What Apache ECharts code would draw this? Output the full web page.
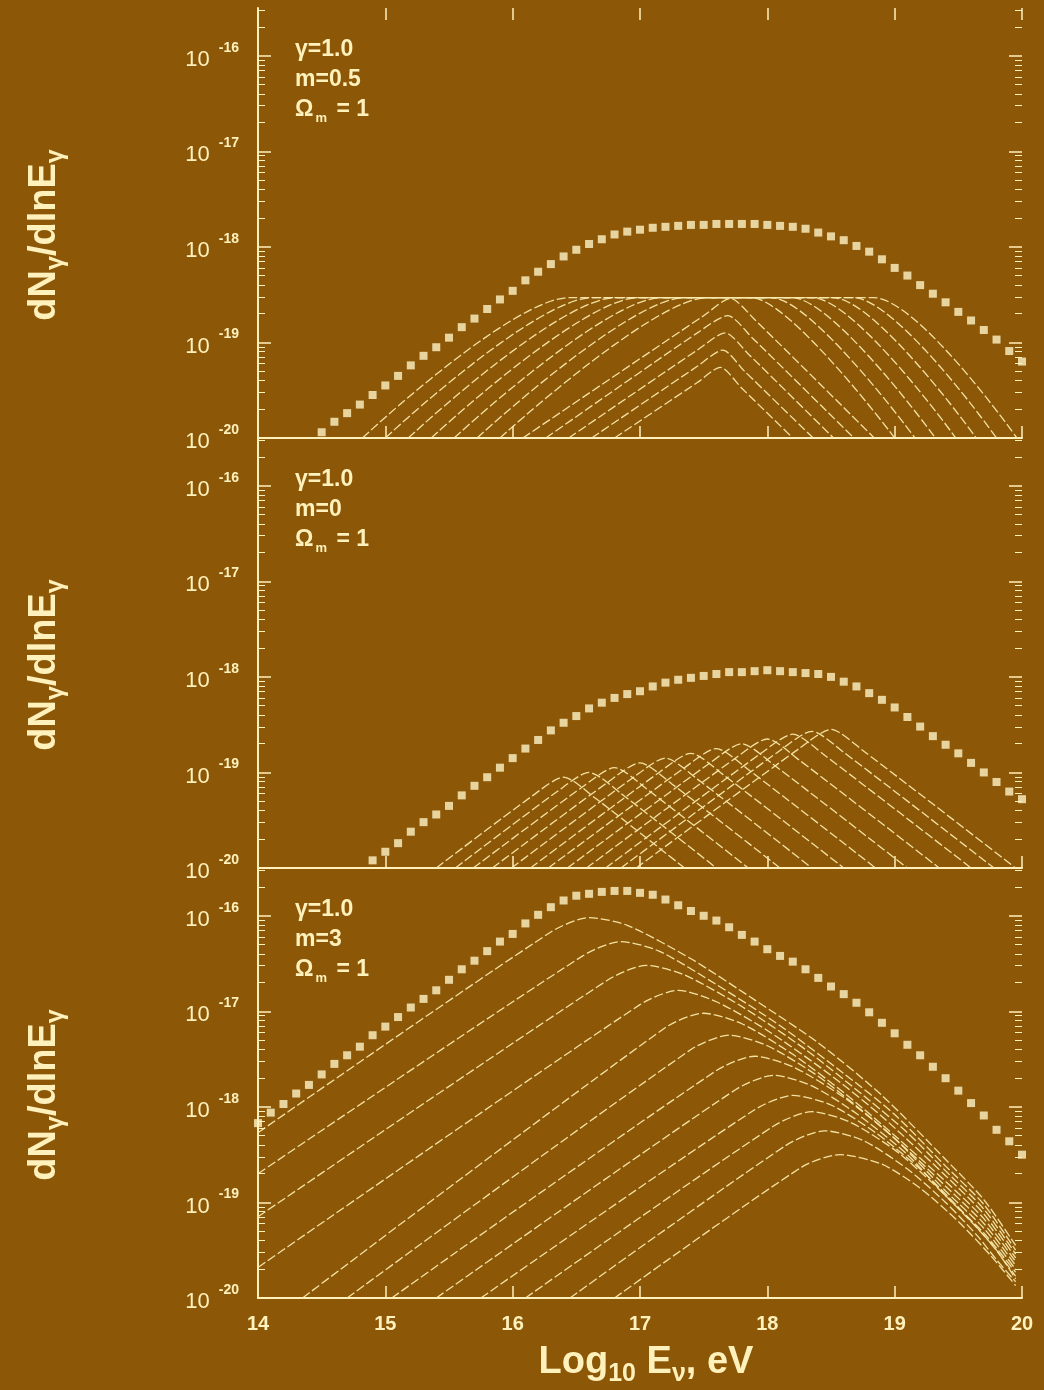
<!DOCTYPE html>
<html><head><meta charset="utf-8">
<script src="https://cdn.jsdelivr.net/npm/echarts@6/dist/echarts.min.js"></script>
<style>html,body{margin:0;padding:0;background:#8C5808;}#c{width:1044px;height:1390px;}</style>
</head><body><div id="c"></div>
<script>
// ---------------- DATA (log10 values) ----------------
const xTicks = [14, 15, 16, 17, 18, 19, 20];
const yTickExponents = [-20, -19, -18, -17, -16];
const yMinExp = -20, yMaxExp = -15.5;
const minorMultipliers = [2, 3, 4, 5, 6, 7, 8, 9];

const logE = [14.0,14.1,14.2,14.3,14.4,14.5,14.6,14.7,14.8,14.9,
  15.0,15.1,15.2,15.3,15.4,15.5,15.6,15.7,15.8,15.9,
  16.0,16.1,16.2,16.3,16.4,16.5,16.6,16.7,16.8,16.9,
  17.0,17.1,17.2,17.3,17.4,17.5,17.6,17.7,17.8,17.9,
  18.0,18.1,18.2,18.3,18.4,18.5,18.6,18.7,18.8,18.9,
  19.0,19.1,19.2,19.3,19.4,19.5,19.6,19.7,19.8,19.9,20.0];

// total (dotted) curves, log10 dN/dlnE
const totalM05 = [null,null,null,null,null,-19.94,-19.83,-19.74,-19.65,-19.55,
  -19.45,-19.35,-19.24,-19.14,-19.05,-18.95,-18.84,-18.75,-18.65,-18.55,
  -18.46,-18.35,-18.26,-18.18,-18.10,-18.03,-17.97,-17.92,-17.87,-17.84,
  -17.82,-17.80,-17.79,-17.78,-17.77,-17.77,-17.76,-17.76,-17.76,-17.76,
  -17.77,-17.78,-17.79,-17.81,-17.85,-17.89,-17.93,-17.99,-18.05,-18.13,
  -18.22,-18.30,-18.40,-18.49,-18.58,-18.68,-18.77,-18.87,-18.97,-19.09,-19.20];
const totalM0 = [null,null,null,null,null,null,null,null,null,-19.92,
  -19.83,-19.74,-19.62,-19.52,-19.44,-19.35,-19.24,-19.14,-19.05,-18.95,
  -18.85,-18.75,-18.66,-18.56,-18.48,-18.41,-18.33,-18.27,-18.22,-18.18,
  -18.15,-18.10,-18.06,-18.03,-18.01,-17.99,-17.97,-17.95,-17.95,-17.94,
  -17.93,-17.94,-17.95,-17.96,-17.97,-18.00,-18.05,-18.10,-18.17,-18.24,
  -18.32,-18.42,-18.52,-18.62,-18.71,-18.80,-18.90,-19.00,-19.10,-19.20,-19.28];
const totalM3 = [-18.17,-18.06,-17.97,-17.86,-17.77,-17.66,-17.55,-17.46,-17.37,-17.25,
  -17.16,-17.06,-16.96,-16.87,-16.78,-16.67,-16.56,-16.47,-16.37,-16.27,
  -16.19,-16.08,-15.99,-15.91,-15.84,-15.79,-15.77,-15.75,-15.74,-15.74,
  -15.76,-15.78,-15.83,-15.89,-15.95,-16.00,-16.05,-16.12,-16.20,-16.27,
  -16.35,-16.42,-16.48,-16.56,-16.65,-16.74,-16.82,-16.91,-17.01,-17.12,
  -17.23,-17.35,-17.46,-17.58,-17.70,-17.83,-17.96,-18.09,-18.24,-18.36,-18.50];

// individual contributions, [logE, log10 dN/dlnE] vertices
const m05Lines = [
  [[16.80,-20],[17.45,-19.42],[17.63,-19.26],[17.80,-19.48],[18.20,-20]],
  [[16.62,-20],[17.45,-19.25],[17.65,-19.08],[17.82,-19.30],[18.36,-20]],
  [[16.44,-20],[17.45,-19.08],[17.67,-18.90],[17.85,-19.12],[18.52,-20]],
  [[16.26,-20],[17.45,-18.90],[17.69,-18.72],[17.88,-18.95],[18.68,-20]],
  [[16.08,-20],[17.50,-18.72],[17.71,-18.54],[17.90,-18.76],[18.84,-20]],
  [[15.90,-20],[17.53,-18.53],[17.87,-18.53],[19.00,-20]],
  [[15.72,-20],[17.35,-18.53],[18.03,-18.53],[19.16,-20]],
  [[15.54,-20],[17.17,-18.53],[18.19,-18.53],[19.32,-20]],
  [[15.36,-20],[16.99,-18.53],[18.35,-18.53],[19.48,-20]],
  [[15.18,-20],[16.81,-18.53],[18.51,-18.53],[19.64,-20]],
  [[15.00,-20],[16.63,-18.53],[18.67,-18.53],[19.80,-20]],
  [[14.82,-20],[16.45,-18.53],[18.83,-18.53],[19.96,-20]]
];
const m0Lines = [
  [[15.40,-20],[16.15,-19.25],[16.40,-19.05],[16.65,-19.27],[17.35,-20]],
  [[15.55,-20],[16.35,-19.20],[16.60,-19.00],[16.85,-19.22],[17.60,-20]],
  [[15.69,-20],[16.55,-19.15],[16.80,-18.95],[17.05,-19.17],[17.85,-20]],
  [[15.84,-20],[16.75,-19.10],[17.00,-18.90],[17.25,-19.12],[18.10,-20]],
  [[15.99,-20],[16.95,-19.05],[17.20,-18.85],[17.45,-19.07],[18.35,-20]],
  [[16.14,-20],[17.15,-19.00],[17.40,-18.80],[17.65,-19.02],[18.60,-20]],
  [[16.28,-20],[17.35,-18.95],[17.60,-18.75],[17.85,-18.97],[18.85,-20]],
  [[16.43,-20],[17.55,-18.90],[17.80,-18.70],[18.05,-18.92],[19.10,-20]],
  [[16.58,-20],[17.75,-18.85],[18.00,-18.65],[18.25,-18.87],[19.35,-20]],
  [[16.73,-20],[17.95,-18.80],[18.20,-18.60],[18.45,-18.82],[19.60,-20]],
  [[16.85,-20],[18.10,-18.77],[18.35,-18.57],[18.60,-18.79],[19.78,-20]],
  [[16.97,-20],[18.25,-18.75],[18.50,-18.55],[18.75,-18.77],[19.95,-20]]
];
const m3Lines = [
  [[14.00,-18.27],[16.30,-16.17],[16.60,-16.02],[16.90,-16.10],[17.40,-16.45],[17.90,-16.88],[18.40,-17.33],[18.90,-17.88],[19.40,-18.55],[19.70,-18.97],[19.95,-19.45]],
  [[14.00,-18.70],[16.55,-16.42],[16.85,-16.27],[17.15,-16.37],[17.60,-16.72],[18.10,-17.15],[18.60,-17.65],[19.00,-18.08],[19.40,-18.62],[19.70,-19.02],[19.95,-19.50]],
  [[14.00,-19.15],[16.75,-16.67],[17.05,-16.52],[17.35,-16.62],[17.80,-16.95],[18.30,-17.40],[18.80,-17.93],[19.10,-18.27],[19.40,-18.67],[19.70,-19.07],[19.95,-19.54]],
  [[14.00,-19.68],[17.00,-16.93],[17.30,-16.78],[17.60,-16.90],[18.00,-17.20],[18.50,-17.67],[18.90,-18.10],[19.40,-18.72],[19.70,-19.12],[19.95,-19.58]],
  [[14.35,-20],[17.20,-17.17],[17.50,-17.02],[17.80,-17.13],[18.20,-17.45],[18.60,-17.85],[19.00,-18.30],[19.40,-18.78],[19.70,-19.17],[19.95,-19.62]],
  [[14.70,-20],[17.40,-17.40],[17.70,-17.25],[18.00,-17.36],[18.40,-17.68],[18.80,-18.10],[19.10,-18.45],[19.40,-18.83],[19.70,-19.22],[19.95,-19.66]],
  [[15.05,-20],[17.60,-17.62],[17.90,-17.47],[18.20,-17.58],[18.60,-17.90],[19.00,-18.33],[19.40,-18.88],[19.70,-19.27],[19.95,-19.70]],
  [[15.40,-20],[17.75,-17.82],[18.05,-17.67],[18.35,-17.78],[18.70,-18.07],[19.10,-18.50],[19.40,-18.93],[19.70,-19.32],[19.95,-19.73]],
  [[15.75,-20],[17.90,-18.03],[18.20,-17.88],[18.50,-17.98],[18.85,-18.27],[19.20,-18.65],[19.50,-19.05],[19.75,-19.42],[19.95,-19.77]],
  [[16.10,-20],[18.05,-18.20],[18.35,-18.05],[18.65,-18.16],[19.00,-18.45],[19.30,-18.80],[19.60,-19.20],[19.80,-19.50],[19.95,-19.80]],
  [[16.45,-20],[18.15,-18.40],[18.45,-18.25],[18.75,-18.35],[19.10,-18.65],[19.40,-19.00],[19.65,-19.35],[19.80,-19.60],[19.95,-19.83]],
  [[16.80,-20],[18.27,-18.63],[18.57,-18.50],[18.90,-18.60],[19.20,-18.85],[19.50,-19.20],[19.75,-19.55],[19.95,-19.87]]
];

const panelTexts = [
  ['γ=1.0', 'm=0.5', 'Ω{sub|m} = 1'],
  ['γ=1.0', 'm=0', 'Ω{sub|m} = 1'],
  ['γ=1.0', 'm=3', 'Ω{sub|m} = 1']
];

// ---------------- CHART ----------------
const FG = '#FFF1BC', LN = '#F9E9AC', BG = '#8C5808';
const FONT = '"Liberation Sans", Arial, Helvetica, sans-serif';
const pw = v => Math.pow(10, v);
const tot = ys => logE.map((x, i) => ys[i] == null ? null : [x, pw(ys[i])]).filter(Boolean);
const crv = pts => pts.map(p => [p[0], pw(p[1])]);

const majorVals = yTickExponents.map(pw);
const minorVals = [];
yTickExponents.forEach(e => minorMultipliers.forEach(m => { const v = m * pw(e); if (v <= pw(yMaxExp)) minorVals.push(v); }));

const panelTop = [8, 438, 868], panelH = 430;
const grid = panelTop.map(t => ({ left: 258, right: 22, top: t, height: panelH }));

const xAxis = [0, 1, 2].map(i => ({
  type: 'value', gridIndex: i, min: 14, max: 20, interval: 1, position: 'bottom',
  axisLine: { show: true, onZero: false, lineStyle: { color: FG, width: 2 } },
  axisTick: { show: true, inside: true, length: 12, lineStyle: { color: FG, width: 1.5 } },
  axisLabel: { show: i === 2, margin: 16, color: FG, fontSize: 20, fontWeight: 'bold', fontFamily: FONT,
    formatter: v => xTicks.indexOf(v) >= 0 ? String(v) : '' },
  splitLine: { show: false }
}));
xAxis.push({
  type: 'value', gridIndex: 0, min: 14, max: 20, interval: 1, position: 'top',
  axisLine: { show: false }, axisTick: { show: true, inside: true, length: 12, lineStyle: { color: FG, width: 1.5 } },
  axisLabel: { show: false }, splitLine: { show: false }
});

const yAxis = [];
[0, 1, 2].forEach(i => {
  const base = { type: 'log', logBase: 10, gridIndex: i, min: pw(yMinExp), max: pw(yMaxExp), splitLine: { show: false } };
  yAxis.push(Object.assign({}, base, {
    position: 'left',
    axisLine: { show: true, lineStyle: { color: FG, width: 2 } },
    axisTick: { show: true, inside: true, length: 13, customValues: majorVals, lineStyle: { color: FG, width: 1.5 } },
    axisLabel: {
      show: true, customValues: majorVals, margin: 19, color: FG, fontFamily: FONT,
      formatter: v => '{b|10}{s|' + Math.round(Math.log10(v)) + '}',
      rich: {
        b: { fontSize: 22, color: FG, fontFamily: FONT, verticalAlign: 'bottom', lineHeight: 30 },
        s: { fontSize: 14, fontWeight: 'bold', color: FG, fontFamily: FONT, verticalAlign: 'top', lineHeight: 30, padding: [0, 0, 0, 9] }
      }
    }
  }));
  yAxis.push(Object.assign({}, base, {
    position: 'left', axisLine: { show: false },
    axisTick: { show: true, inside: true, length: 7, customValues: minorVals, lineStyle: { color: FG, width: 1 } },
    axisLabel: { show: false }
  }));
  yAxis.push(Object.assign({}, base, {
    position: 'right', axisLine: { show: false },
    axisTick: { show: true, inside: true, length: 13, customValues: majorVals, lineStyle: { color: FG, width: 1.5 } },
    axisLabel: { show: false }
  }));
  yAxis.push(Object.assign({}, base, {
    position: 'right', axisLine: { show: false },
    axisTick: { show: true, inside: true, length: 7, customValues: minorVals, lineStyle: { color: FG, width: 1 } },
    axisLabel: { show: false }
  }));
});

const series = [];
const families = [m05Lines, m0Lines, m3Lines];
const totals = [totalM05, totalM0, totalM3];
families.forEach((fam, i) => {
  fam.forEach(c => series.push({
    type: 'line', xAxisIndex: i, yAxisIndex: 4 * i, data: crv(c), smooth: 0.25,
    showSymbol: false, silent: true, animation: false,
    lineStyle: { color: LN, width: 1.3, type: [9, 3], opacity: 0.95 }
  }));
  series.push({
    type: 'scatter', xAxisIndex: i, yAxisIndex: 4 * i, data: tot(totals[i]),
    symbol: 'rect', symbolSize: 8, itemStyle: { color: '#FFF4C6' }, silent: true, animation: false, z: 5
  });
});

const graphic = [];
panelTop.forEach((t, i) => {
  graphic.push({
    type: 'text', x: 295, y: t + 27, silent: true,
    style: {
      text: panelTexts[i].join('\n'), fill: FG, font: 'bold 23px ' + FONT, lineHeight: 30,
      rich: { sub: { fontSize: 13, fontWeight: 'bold', fill: FG, verticalAlign: 'bottom', lineHeight: 30, padding: [0, 3, 0, 2] } }
    }
  });
  graphic.push({
    type: 'text', x: 45, y: t + panelH / 2 + 12, rotation: Math.PI / 2, silent: true,
    style: {
      text: 'dN{s|γ}/dlnE{s|γ}', fill: FG, font: 'bold 38px ' + FONT, align: 'center', verticalAlign: 'middle',
      rich: { s: { fontSize: 25, fontWeight: 'bold', fill: FG, verticalAlign: 'bottom', lineHeight: 48 } }
    }
  });
});
graphic.push({
  type: 'text', x: 646, y: 1363, silent: true,
  style: {
    text: 'Log{s|10} E{s|ν}, eV', fill: FG, font: 'bold 38px ' + FONT, align: 'center', verticalAlign: 'middle',
    rich: { s: { fontSize: 25, fontWeight: 'bold', fill: FG, verticalAlign: 'bottom', lineHeight: 48 } }
  }
});

const chart = echarts.init(document.getElementById('c'), null, { renderer: 'canvas', width: 1044, height: 1390 });
chart.setOption({ backgroundColor: BG, animation: false, grid, xAxis, yAxis, series, graphic });
</script></body></html>
